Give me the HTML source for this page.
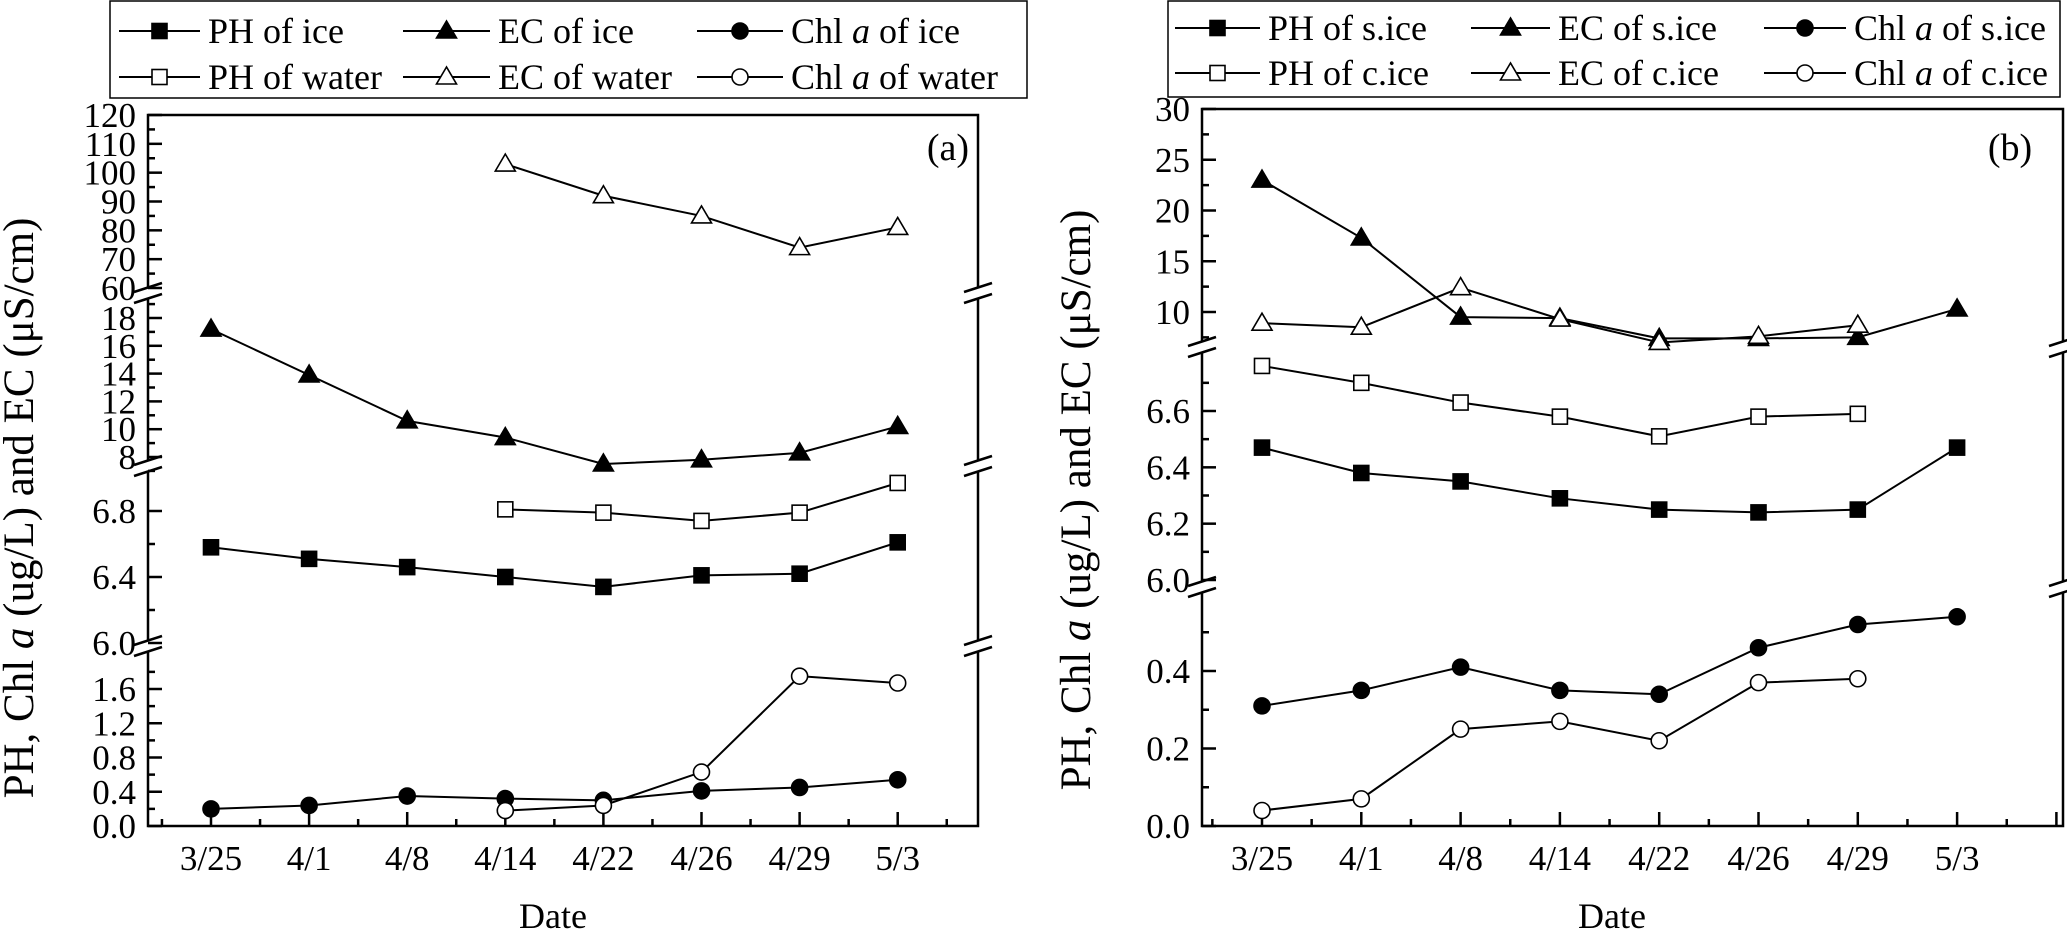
<!DOCTYPE html>
<html><head><meta charset="utf-8"><style>
html,body{margin:0;padding:0;background:#fff;}
svg{display:block;font-family:"Liberation Serif",serif;}
</style></head><body>
<svg id="chart" width="2067" height="932" viewBox="0 0 2067 932" xmlns="http://www.w3.org/2000/svg"></svg>
<script>
const categories=["3/25","4/1","4/8","4/14","4/22","4/26","4/29","5/3"];
// Panel a
const ecWaterA=[null,null,null,103,92,85,74,81];
const ecIceA=[17.2,13.9,10.6,9.4,7.5,7.8,8.3,10.2];
const phWaterA=[null,null,null,6.81,6.79,6.74,6.79,6.97];
const phIceA=[6.58,6.51,6.46,6.40,6.34,6.41,6.42,6.61];
const chlIceA=[0.20,0.24,0.35,0.32,0.30,0.41,0.45,0.54];
const chlWaterA=[null,null,null,0.18,0.24,0.63,1.75,1.67];
// Panel b
const ecSIceB=[23,17.3,9.5,9.4,7.4,7.4,7.5,10.3];
const ecCIceB=[8.9,8.5,12.4,9.3,7.0,7.6,8.7,null];
const phCIceB=[6.76,6.70,6.63,6.58,6.51,6.58,6.59,null];
const phSIceB=[6.47,6.38,6.35,6.29,6.25,6.24,6.25,6.47];
const chlSIceB=[0.31,0.35,0.41,0.35,0.34,0.46,0.52,0.54];
const chlCIceB=[0.04,0.07,0.25,0.27,0.22,0.37,0.38,null];
// tick labels
const ticksA1=["60","70","80","90","100","110","120"];
const ticksA2=["8","10","12","14","16","18"];
const ticksA3=["6.0","6.4","6.8"];
const ticksA4=["0.0","0.4","0.8","1.2","1.6"];
const ticksB1=["10","15","20","25","30"];
const ticksB2=["6.0","6.2","6.4","6.6"];
const ticksB3=["0.0","0.2","0.4"];

const NS="http://www.w3.org/2000/svg";
const svg=document.getElementById('chart');
function mk(tag,attrs,parent){const e=document.createElementNS(NS,tag);for(const k in attrs)e.setAttribute(k,attrs[k]);(parent||svg).appendChild(e);return e;}
function lin(v0,y0,v1,y1){return v=>y0+(v-v0)*(y1-y0)/(v1-v0);}

function marker(g,type,x,y){
  let e;
  const fill=type.filled?'#000':'#fff';
  if(type.shape==='sq') e=mk('rect',{x:x-7.5,y:y-7.5,width:15,height:15,fill:fill,stroke:'#000','stroke-width':1.6},g);
  else if(type.shape==='tri') e=mk('polygon',{points:`${x},${y-10} ${x-10},${y+7} ${x+10},${y+7}`,fill:fill,stroke:'#000','stroke-width':1.6},g);
  else e=mk('circle',{cx:x,cy:y,r:8,fill:fill,stroke:'#000','stroke-width':1.6},g);
  
  
}
function series(name,vals,xs,ys,type){
  const g=mk('g',{});
  
  
  const pts=[];
  vals.forEach((v,i)=>{if(v!==null)pts.push([xs(i),ys(v)]);});
  const pl=mk('polyline',{points:pts.map(p=>p.join(',')).join(' '),fill:'none',stroke:'#000','stroke-width':2},g);
  
  
  pts.forEach(p=>marker(g,type,p[0],p[1]));
}
function breakMark(x,y){
  mk('rect',{x:x-3,y:y-5,width:6,height:10,fill:'#fff'});
  mk('line',{x1:x-14,y1:y-1,x2:x+14,y2:y-10,stroke:'#000','stroke-width':2.5});
  mk('line',{x1:x-14,y1:y+10,x2:x+14,y2:y+1,stroke:'#000','stroke-width':2.5});
}
function yTicks(axX,labels,vals,minor,ys,name){
  const g=mk('g',{});
  
  
  labels.forEach((l,i)=>{
    const y=ys(vals[i]);
    mk('line',{x1:axX,y1:y,x2:axX+14,y2:y,stroke:'#000','stroke-width':2.5},g);
    const t=mk('text',{x:axX-12,y:y+12,'text-anchor':'end','font-size':35},g);t.textContent=l;
  });
  minor.forEach(v=>{const y=ys(v);mk('line',{x1:axX,y1:y,x2:axX+7,y2:y,stroke:'#000','stroke-width':2.5},g);});
}
function frame(L,R,T,B,xs,breaks){
  mk('rect',{x:L,y:T,width:R-L,height:B-T,fill:'none',stroke:'#000','stroke-width':2.5});
  for(let i=-1;i<=9;i+=0.5){const x=xs(i);if(x<=L+2||x>=R-2)continue;
    mk('line',{x1:x,y1:B,x2:x,y2:B-(Number.isInteger(i)?14:7),stroke:'#000','stroke-width':2.5});}
  categories.forEach((c,i)=>{const t=mk('text',{x:xs(i),y:870,'text-anchor':'middle','font-size':35});t.textContent=c;
    });
  breaks.forEach(y=>{breakMark(L,y);breakMark(R,y);});
}
function legend(x0,y0,w,h,cols,rows,entries,name,fs){
  const g=mk('g',{});
  
  
  mk('rect',{x:x0,y:y0,width:w,height:h,fill:'#fff',stroke:'#000','stroke-width':1.5},g);
  entries.forEach((e,k)=>{
    const c=cols[k%3],y=rows[Math.floor(k/3)];
    const eg=mk('g',{},g);
    
    
    mk('line',{x1:c[0],y1:y,x2:c[1],y2:y,stroke:'#000','stroke-width':2},eg);
    marker(eg,e.type,(c[0]+c[1])/2,y);
    const t=mk('text',{x:c[1]+8,y:y+12,'font-size':fs},eg);
    t.innerHTML=e.label;
  });
}
const T={ps:{shape:'sq',filled:true},po:{shape:'sq',filled:false},ts:{shape:'tri',filled:true},to:{shape:'tri',filled:false},cs:{shape:'circ',filled:true},co:{shape:'circ',filled:false}};

// ===== Panel a =====
const xa=i=>211+98.1*i;
const a1=lin(120,115,60,288), a2=lin(18,318,8,457), a3=lin(6.8,511,6.0,643), a4=lin(0,826,1.6,689);
frame(148,978,115,826,xa,[293,466,646]);
yTicks(148,ticksA1,[60,70,80,90,100,110,120],[65,75,85,95,105,115],a1,'y-ticks-ec-water');
yTicks(148,ticksA2,[8,10,12,14,16,18],[7,9,11,13,15,17,19],a2,'y-ticks-ec-ice');
yTicks(148,ticksA3,[6.0,6.4,6.8],[6.2,6.6],a3,'y-ticks-ph');
yTicks(148,ticksA4,[0,0.4,0.8,1.2,1.6],[0.2,0.6,1.0,1.4,1.8],a4,'y-ticks-chl');
series('ec-water-a',ecWaterA,xa,a1,T.to);
series('ec-ice-a',ecIceA,xa,a2,T.ts);
series('ph-water-a',phWaterA,xa,a3,T.po);
series('ph-ice-a',phIceA,xa,a3,T.ps);
series('chl-ice-a',chlIceA,xa,a4,T.cs);
series('chl-water-a',chlWaterA,xa,a4,T.co);
let t=mk('text',{x:948,y:160,'text-anchor':'middle','font-size':38});t.textContent='(a)';

t=mk('text',{x:553,y:928,'text-anchor':'middle','font-size':36});t.textContent='Date';

t=mk('text',{x:0,y:0,'text-anchor':'middle','font-size':43,transform:'translate(33,508) rotate(-90)'});
t.innerHTML='PH, Chl <tspan font-style="italic">a</tspan> (ug/L) and EC (μS/cm)';

legend(110,1,917,97,[[119,200],[403,490],[697,783]],[31,77],[
 {type:T.ps,label:'PH of ice'},{type:T.ts,label:'EC of ice'},{type:T.cs,label:'Chl <tspan font-style="italic">a</tspan> of ice'},
 {type:T.po,label:'PH of water'},{type:T.to,label:'EC of water'},{type:T.co,label:'Chl <tspan font-style="italic">a</tspan> of water'}],'legend-a',36);

// ===== Panel b =====
const xb=i=>1262+99.3*i;
const b1=lin(30,109,10,312), b2=lin(6.6,411,6.0,580), b3=lin(0,826,0.4,671);
frame(1202,2063,109,826,xb,[347,587]);
yTicks(1202,ticksB1,[10,15,20,25,30],[7.5,12.5,17.5,22.5,27.5],b1,'y-ticks-ec');
yTicks(1202,ticksB2,[6.0,6.2,6.4,6.6],[6.1,6.3,6.5,6.7],b2,'y-ticks-ph-b');
yTicks(1202,ticksB3,[0,0.2,0.4],[0.1,0.3,0.5],b3,'y-ticks-chl-b');
series('ec-s-ice-b',ecSIceB,xb,b1,T.ts);
series('ec-c-ice-b',ecCIceB,xb,b1,T.to);
series('ph-c-ice-b',phCIceB,xb,b2,T.po);
series('ph-s-ice-b',phSIceB,xb,b2,T.ps);
series('chl-s-ice-b',chlSIceB,xb,b3,T.cs);
series('chl-c-ice-b',chlCIceB,xb,b3,T.co);
t=mk('text',{x:2010,y:160,'text-anchor':'middle','font-size':38});t.textContent='(b)';

t=mk('text',{x:1612,y:928,'text-anchor':'middle','font-size':36});t.textContent='Date';

t=mk('text',{x:0,y:0,'text-anchor':'middle','font-size':43,transform:'translate(1090,500) rotate(-90)'});
t.innerHTML='PH, Chl <tspan font-style="italic">a</tspan> (ug/L) and EC (μS/cm)';

legend(1168,1,892,96,[[1175,1260],[1471,1550],[1764,1846]],[28,73],[
 {type:T.ps,label:'PH of s.ice'},{type:T.ts,label:'EC of s.ice'},{type:T.cs,label:'Chl <tspan font-style="italic">a</tspan> of s.ice'},
 {type:T.po,label:'PH of c.ice'},{type:T.to,label:'EC of c.ice'},{type:T.co,label:'Chl <tspan font-style="italic">a</tspan> of c.ice'}],'legend-b',36);
</script>
</body></html>
